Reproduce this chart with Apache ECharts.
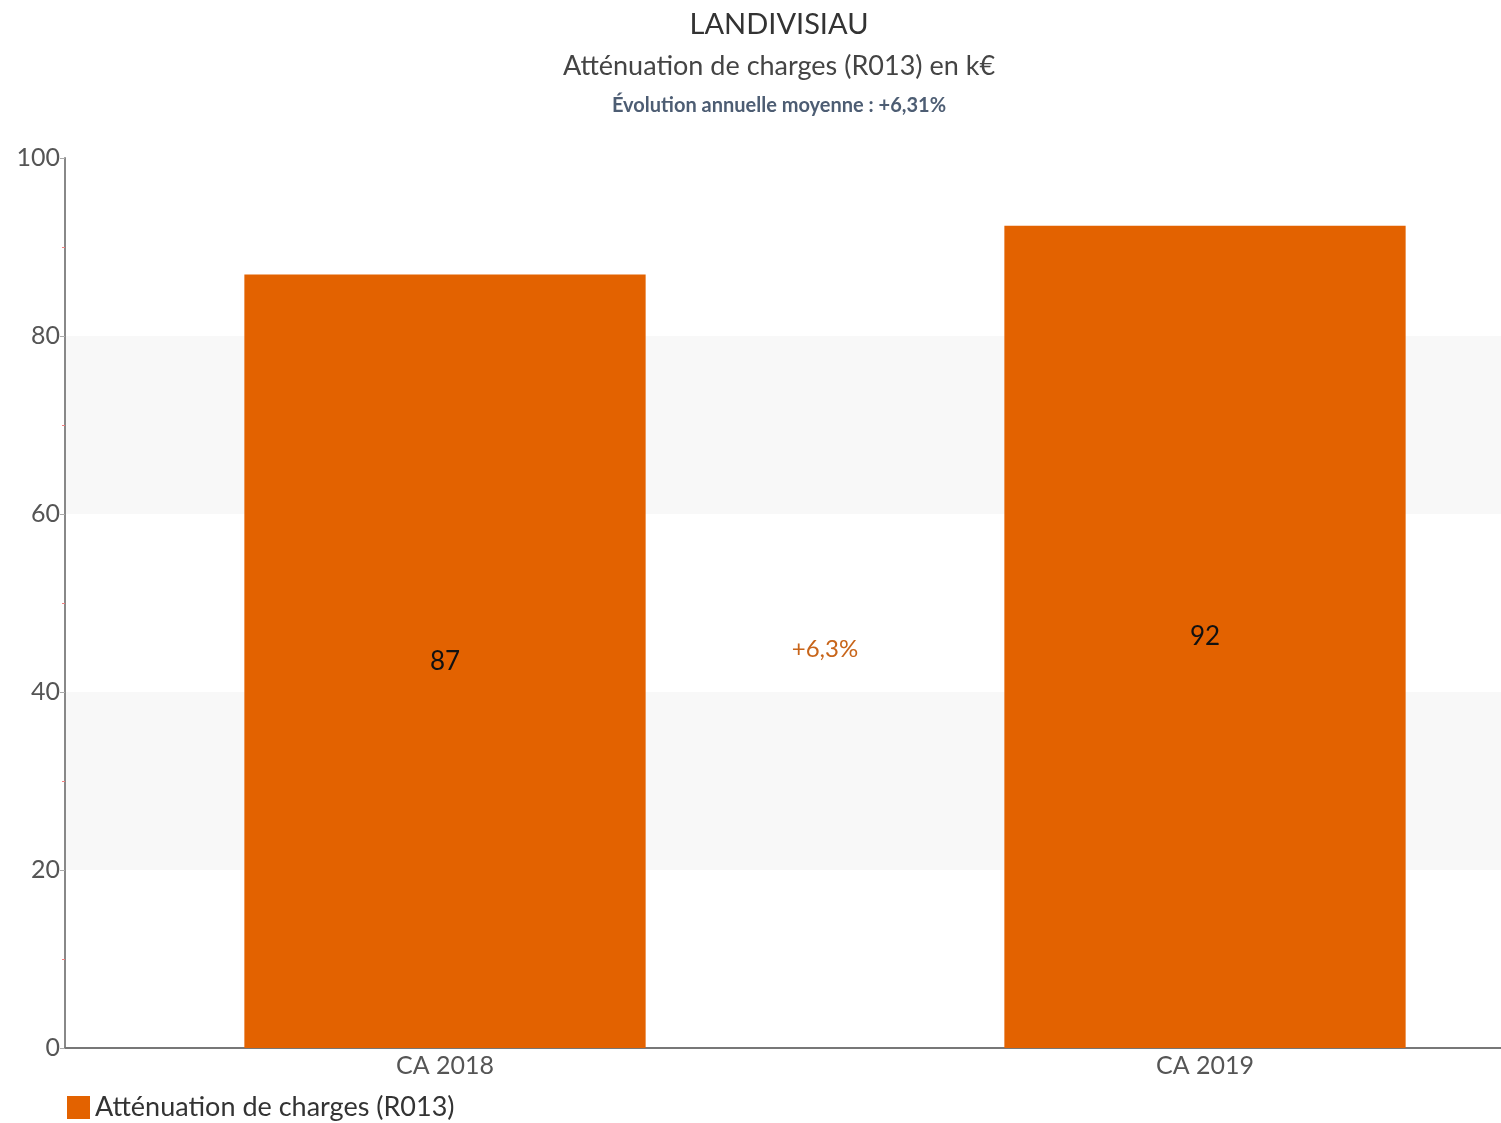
<!DOCTYPE html>
<html>
<head>
<meta charset="utf-8">
<script src="https://cdn.jsdelivr.net/npm/echarts@6/dist/echarts.min.js"></script>
<style>html,body{margin:0;padding:0;background:#fff}#c{width:1501px;height:1123px}</style>
</head>
<body>
<div id="c"></div>
<script>
const categories = ['CA 2018', 'CA 2019'];
const values = [86.9, 92.4];
const valueLabels = ['87', '92'];
const changeLabel = '+6,3%';
const yTicks = [0, 20, 40, 60, 80, 100];
const seriesName = 'Atténuation de charges (R013)';
const titleText = 'LANDIVISIAU';
const subtitleText = 'Atténuation de charges (R013) en k€';
const evolutionText = 'Évolution annuelle moyenne : +6,31%';

const FONT = 'Lato, "Open Sans", sans-serif';
const chart = echarts.init(document.getElementById('c'), null, {renderer: 'canvas'});
const option = {
  animation: false,
  backgroundColor: '#fff',
  textStyle: {fontFamily: FONT},
  legend: {
    left: 62, top: 1089, itemWidth: 23, itemHeight: 23, itemGap: 10,
    icon: 'rect',
    textStyle: {fontFamily: FONT, fontSize: 27, color: '#333'},
    data: [seriesName]
  },
  grid: {left: 65, right: -84, top: 158, bottom: 75, containLabel: false, outerBoundsMode: 'none'},
  xAxis: {
    type: 'category', data: categories,
    axisLine: {lineStyle: {color: '#777', width: 2}},
    axisTick: {show: false},
    axisLabel: {fontFamily: FONT, fontSize: 25, color: '#555', margin: 5}
  },
  yAxis: {
    type: 'value', min: yTicks[0], max: yTicks[yTicks.length - 1], interval: 20,
    axisLine: {show: true, lineStyle: {color: '#888', width: 2}},
    axisTick: {show: true, length: 5, lineStyle: {color: '#aaa'}},
    minorTick: {show: true, splitNumber: 2, length: 3, lineStyle: {color: '#f08080'}},
    axisLabel: {fontFamily: FONT, fontSize: 25, color: '#555', margin: 5},
    splitLine: {show: false},
    splitArea: {show: true, areaStyle: {color: ['#ffffff', '#f8f8f8']}}
  },
  series: [{
    name: seriesName, type: 'bar', data: values, barWidth: '52.8%',
    itemStyle: {color: '#e36200'},
    label: {
      show: true, position: 'inside',
      formatter: p => valueLabels[p.dataIndex],
      fontFamily: FONT, fontSize: 26, color: '#111'
    }
  }]
};
chart.setOption(option);
const p0 = chart.convertToPixel({xAxisIndex: 0}, categories[0]);
const p1 = chart.convertToPixel({xAxisIndex: 0}, categories[1]);
const midVal = (values[0] + values[1]) / 4;
const py = chart.convertToPixel({yAxisIndex: 0}, midVal);
const TX = 779;
chart.setOption({
  graphic: [
    {type: 'text', x: TX, y: 25, style: {text: titleText, fontFamily: FONT, fontSize: 29, fill: '#333', align: 'center', verticalAlign: 'middle'}},
    {type: 'text', x: TX, y: 66, style: {text: subtitleText, fontFamily: FONT, fontSize: 27, fill: '#444', align: 'center', verticalAlign: 'middle'}},
    {type: 'text', x: TX, y: 106, style: {text: evolutionText, fontFamily: FONT, fontSize: 20, fontWeight: 'bold', fill: '#4d5d73', align: 'center', verticalAlign: 'middle'}},
    {type: 'text', x: (p0 + p1) / 2, y: py,
     style: {text: changeLabel, fontFamily: FONT, fontSize: 24, fill: '#c8651a', align: 'center', verticalAlign: 'middle'}}
  ]
});
</script>
</body>
</html>
